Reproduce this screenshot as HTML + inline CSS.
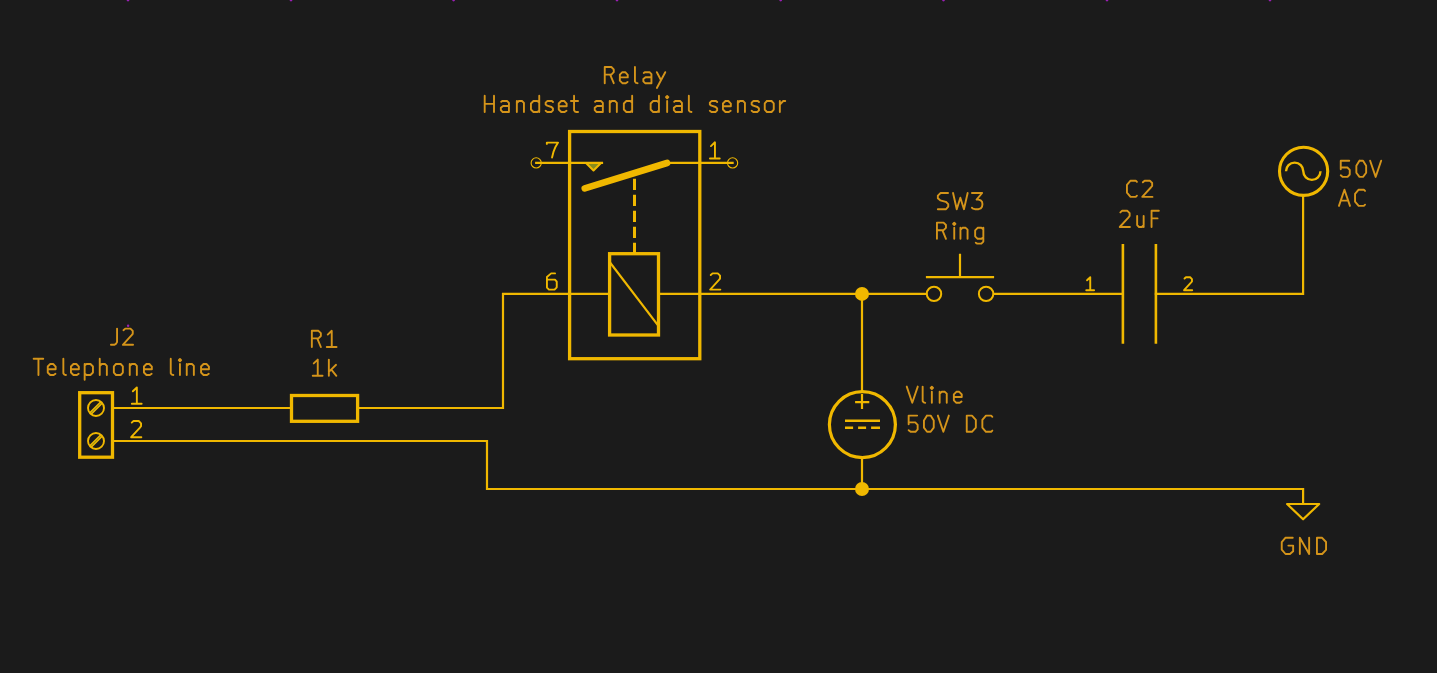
<!DOCTYPE html>
<html><head><meta charset="utf-8"><title>Schematic</title>
<style>html,body{margin:0;padding:0;background:#1b1b1b;overflow:hidden;font-family:"Liberation Sans",sans-serif;}svg{display:block;}</style>
</head><body>
<svg width="1437" height="673" viewBox="0 0 1437 673">
<rect width="1437" height="673" fill="#1b1b1b"/>
<g fill="none">
<path d="M112.5 408 H291.5 M357.6 408 H503 V293.9 H609.6 M658.5 293.9 H926 M994.2 293.9 H1122.9 M1155.9 293.9 H1303.1 V195.5 M862 293.9 V391.6 M862 457.6 V489 M112.5 441 H487 V489 H1303.1 V504 M536.2 162.9 H602 M668 162.9 H732.6 M609.6 262 L658.5 326" stroke="#f0b800" stroke-width="2.2" stroke-linecap="square"/>
<rect x="569.6" y="131.5" width="130.2" height="227.2" stroke="#f0b800" stroke-width="3.3"/>
<rect x="609.6" y="253.7" width="48.9" height="81.3" stroke="#f0b800" stroke-width="3.3"/>
<path d="M634.5 178.7 V253.7" stroke="#f0b800" stroke-width="3" stroke-dasharray="11.4 4.6"/>
<path d="M584.8 188.4 L667 163" stroke="#f0b800" stroke-width="6.7" stroke-linecap="round"/>
<path d="M586 163 L601 163 L593.5 170.5 Z" fill="#878c1e" stroke="#f0b800" stroke-width="2" stroke-linejoin="round"/>
<circle cx="536.2" cy="162.9" r="5.1" stroke="#f0b800" stroke-width="1.1"/>
<circle cx="732.6" cy="162.9" r="5.1" stroke="#f0b800" stroke-width="1.1"/>
<rect x="79.7" y="392.7" width="32.8" height="64.5" stroke="#f0b800" stroke-width="3.3"/>
<circle cx="96.0" cy="408.0" r="8" stroke="#f0b800" stroke-width="1.9"/>
<path d="M90 412.5 L100.5 402 L102 403.5 L91.5 414 Z" fill="#878c1e" stroke="#f0b800" stroke-width="1.4"/>
<circle cx="96.0" cy="441.0" r="8" stroke="#f0b800" stroke-width="1.9"/>
<path d="M90 445.5 L100.5 435 L102 436.5 L91.5 447 Z" fill="#878c1e" stroke="#f0b800" stroke-width="1.4"/>
<rect x="291.5" y="395.5" width="66.1" height="25.8" stroke="#f0b800" stroke-width="3.3"/>
<path d="M960 253.7 V278.2 M925.9 277.1 H994.1" stroke="#f0b800" stroke-width="2.2"/>
<circle cx="934" cy="293.9" r="7.2" stroke="#f0b800" stroke-width="2"/>
<circle cx="986.1" cy="293.9" r="7.2" stroke="#f0b800" stroke-width="2"/>
<path d="M1122.9 243.9 V343.8 M1155.9 243.9 V343.8" stroke="#f0b800" stroke-width="2.6"/>
<circle cx="1303.6" cy="171.3" r="24.1" stroke="#f0b800" stroke-width="3.1"/>
<path d="M1286 171.3 A8.6 8.6 0 0 1 1303.3 171.3 A8.6 8.6 0 0 0 1320.5 171.3" stroke="#f0b800" stroke-width="2.4"/>
<circle cx="862.4" cy="424.6" r="33" stroke="#f0b800" stroke-width="3.2"/>
<path d="M855.1 402.1 H869.3 M862 393.9 V409" stroke="#f0b800" stroke-width="2.2"/>
<path d="M845 420.7 H880 M845 427.7 H853.1 M858.1 427.7 H866.1 M871.1 427.7 H880" stroke="#f0b800" stroke-width="2.5"/>
<path d="M1287.1 504 H1319.2 L1303.1 519.3 Z" stroke="#f0b800" stroke-width="2.2" stroke-linejoin="round"/>
<circle cx="862" cy="293.9" r="7" fill="#f0b800"/>
<circle cx="862" cy="489" r="7" fill="#f0b800"/>
<circle cx="128" cy="0" r="1.4" fill="#9a1fb4"/>
<circle cx="291" cy="0" r="1.4" fill="#9a1fb4"/>
<circle cx="453.6" cy="0" r="1.4" fill="#9a1fb4"/>
<circle cx="617" cy="0" r="1.4" fill="#9a1fb4"/>
<circle cx="780.7" cy="0" r="1.4" fill="#9a1fb4"/>
<circle cx="943.5" cy="0" r="1.4" fill="#9a1fb4"/>
<circle cx="1107" cy="0" r="1.4" fill="#9a1fb4"/>
<circle cx="1270" cy="0" r="1.4" fill="#9a1fb4"/>
<circle cx="128.1" cy="325.7" r="1.2" fill="#9a1fb4"/>
</g>
<g fill="none" stroke-linecap="round" stroke-linejoin="round">
<path d="M604.75 83.2 L604.75 67 L611.35 67 L613.75 69.4 L613.75 72.2 L611.35 74.6 L604.75 74.6M610.15 74.6 L613.75 83.2M619.85 77.4 L627.75 77.4 L627.75 74.8 L625.25 72.2 L622.35 72.2 L619.85 74.7 L619.85 80.7 L622.35 83.2 L625.75 83.2 L627.55 81.9M634.95 67 L634.95 81.5 L636.05 82.8 L637.55 83.2M643.75 73 L644.75 72.2 L649.55 72.2 L651.45 74.1 L651.45 83.2M651.45 77.2 L645.55 77.2 L643.35 79 L643.35 81.4 L645.15 83.2 L651.45 83.2M656.85 72.2 L661.05 80.2M665.25 72.2 L656.85 88" stroke="#d4941a" stroke-width="1.9"/>
<path d="M484.7 112 L484.7 95.8M494 112 L494 95.8M484.7 103.9 L494 103.9M501.25 101.8 L502.25 101 L507.05 101 L508.95 102.9 L508.95 112M508.95 106 L503.05 106 L500.85 107.8 L500.85 110.2 L502.65 112 L508.95 112M516.85 101 L516.85 112M516.85 103 L518.85 101 L522.05 101 L523.95 102.9 L523.95 112M539.25 95.8 L539.25 112M539.25 102.6 L537.35 101 L533.45 101 L530.95 103.5 L530.95 109.5 L533.45 112 L537.35 112 L539.25 110.4M552.95 102 L551.85 101 L547.45 101 L545.65 102.6 L545.65 104.4 L547.25 105.7 L551.45 107 L552.95 108.5 L552.95 110.4 L551.25 112 L547.25 112 L545.65 110.8M558.75 106.2 L566.65 106.2 L566.65 103.6 L564.15 101 L561.25 101 L558.75 103.5 L558.75 109.5 L561.25 112 L564.65 112 L566.45 110.7M574.05 95.8 L574.05 110.2 L575.05 111.6 L576.35 112 L578.05 112M570.95 101 L578.05 101M595.15 101.8 L596.15 101 L600.95 101 L602.85 102.9 L602.85 112M602.85 106 L596.95 106 L594.75 107.8 L594.75 110.2 L596.55 112 L602.85 112M609.75 101 L609.75 112M609.75 103 L611.75 101 L614.95 101 L616.85 102.9 L616.85 112M632.15 95.8 L632.15 112M632.15 102.6 L630.25 101 L626.35 101 L623.85 103.5 L623.85 109.5 L626.35 112 L630.25 112 L632.15 110.4M658.95 95.8 L658.95 112M658.95 102.6 L657.05 101 L653.15 101 L650.65 103.5 L650.65 109.5 L653.15 112 L657.05 112 L658.95 110.4M667.15 101 L667.15 112M667.15 95.9 L665.95 97.1 L667.15 98.3 L668.35 97.1 L667.15 95.9M674.25 101.8 L675.25 101 L680.05 101 L681.95 102.9 L681.95 112M681.95 106 L676.05 106 L673.85 107.8 L673.85 110.2 L675.65 112 L681.95 112M688.85 95.8 L688.85 110.3 L689.95 111.6 L691.45 112M717.15 102 L716.05 101 L711.65 101 L709.85 102.6 L709.85 104.4 L711.45 105.7 L715.65 107 L717.15 108.5 L717.15 110.4 L715.45 112 L711.45 112 L709.85 110.8M722.95 106.2 L730.85 106.2 L730.85 103.6 L728.35 101 L725.45 101 L722.95 103.5 L722.95 109.5 L725.45 112 L728.85 112 L730.65 110.7M737.85 101 L737.85 112M737.85 103 L739.85 101 L743.05 101 L744.95 102.9 L744.95 112M758.95 102 L757.85 101 L753.45 101 L751.65 102.6 L751.65 104.4 L753.25 105.7 L757.45 107 L758.95 108.5 L758.95 110.4 L757.25 112 L753.25 112 L751.65 110.8M766.95 101 L771.55 101 L773.75 103.4 L773.75 109.6 L771.55 112 L766.95 112 L764.75 109.6 L764.75 103.4 L766.95 101M779.85 101 L779.85 112M779.85 104.6 L783.25 101 L785.25 101" stroke="#d4941a" stroke-width="1.9"/>
<path d="M117.05 328.6 L117.05 342 L116.15 343.6 L114.55 344.7 L110.95 344.8M123.45 330.2 L125.25 328.6 L130.45 328.6 L132.75 330.9 L132.75 333.8 L131.45 335.4 L122.85 344.8 L133.05 344.8" stroke="#d4941a" stroke-width="1.9"/>
<path d="M33.65 358.8 L43.25 358.8M38.45 358.8 L38.45 375M47.75 369.2 L55.65 369.2 L55.65 366.6 L53.15 364 L50.25 364 L47.75 366.5 L47.75 372.5 L50.25 375 L53.65 375 L55.45 373.7M63.35 358.8 L63.35 373.3 L64.45 374.6 L65.95 375M70.95 369.2 L78.85 369.2 L78.85 366.6 L76.35 364 L73.45 364 L70.95 366.5 L70.95 372.5 L73.45 375 L76.85 375 L78.65 373.7M84.65 364 L84.65 379.8M84.65 365.6 L86.55 364 L90.45 364 L92.95 366.5 L92.95 372.5 L90.45 375 L86.55 375 L84.65 373.4M99.75 358.8 L99.75 375M99.75 366 L101.75 364 L104.95 364 L106.85 365.9 L106.85 375M116.05 364 L120.65 364 L122.85 366.4 L122.85 372.6 L120.65 375 L116.05 375 L113.85 372.6 L113.85 366.4 L116.05 364M129.75 364 L129.75 375M129.75 366 L131.75 364 L134.95 364 L136.85 365.9 L136.85 375M143.95 369.2 L151.85 369.2 L151.85 366.6 L149.35 364 L146.45 364 L143.95 366.5 L143.95 372.5 L146.45 375 L149.85 375 L151.65 373.7M170.75 358.8 L170.75 373.3 L171.85 374.6 L173.35 375M179.95 364 L179.95 375M179.95 358.9 L178.75 360.1 L179.95 361.3 L181.15 360.1 L179.95 358.9M186.75 364 L186.75 375M186.75 366 L188.75 364 L191.95 364 L193.85 365.9 L193.85 375M201.05 369.2 L208.95 369.2 L208.95 366.6 L206.45 364 L203.55 364 L201.05 366.5 L201.05 372.5 L203.55 375 L206.95 375 L208.75 373.7" stroke="#d4941a" stroke-width="1.9"/>
<path d="M311.85 347 L311.85 330.8 L318.45 330.8 L320.85 333.2 L320.85 336 L318.45 338.4 L311.85 338.4M317.25 338.4 L320.85 347M327.75 334.6 L331.75 330.8 L331.75 347M326.75 347 L336.55 347" stroke="#d4941a" stroke-width="1.9"/>
<path d="M313.75 363.4 L317.75 359.6 L317.75 375.8M312.75 375.8 L322.55 375.8M328.85 359.6 L328.85 375.8M336.05 364.8 L328.85 371.9M331.55 369.8 L336.35 375.8" stroke="#d4941a" stroke-width="1.9"/>
<path d="M948.05 193 L940.65 193 L937.85 195.6 L937.85 198.2 L940.25 200.3 L945.85 201.8 L948.25 204.1 L948.25 206.7 L946.05 209.2 L937.85 209.2M953.05 193 L956.75 209.2 L960.35 197.7 L963.95 209.2 L967.65 193M971.95 193 L982.15 193 L976.55 199.6 L978.55 199.6 L980.75 200.4 L982.05 201.9 L982.45 204.2 L982.05 206.6 L980.75 208.3 L978.55 209.2 L974.95 209.2 L972.95 208.6 L971.95 207.7" stroke="#d4941a" stroke-width="1.9"/>
<path d="M936.95 238.8 L936.95 222.6 L943.55 222.6 L945.95 225 L945.95 227.8 L943.55 230.2 L936.95 230.2M942.35 230.2 L945.95 238.8M954.25 227.8 L954.25 238.8M954.25 222.7 L953.05 223.9 L954.25 225.1 L955.45 223.9 L954.25 222.7M960.45 227.8 L960.45 238.8M960.45 229.8 L962.45 227.8 L965.65 227.8 L967.55 229.7 L967.55 238.8M983.35 227.8 L983.35 241.6 L981.35 243.6 L977.15 243.6 L975.75 242.8M983.35 229.4 L981.45 227.8 L977.65 227.8 L975.15 230.3 L975.15 236.3 L977.65 238.8 L981.45 238.8 L983.35 237.2" stroke="#d4941a" stroke-width="1.9"/>
<path d="M1136.95 181.9 L1135.75 180.7 L1130.55 180.7 L1126.95 184.9 L1126.95 192.7 L1130.55 196.9 L1135.75 196.9 L1136.95 195.7M1142.85 182.3 L1144.65 180.7 L1149.85 180.7 L1152.15 183 L1152.15 185.9 L1150.85 187.5 L1142.25 196.9 L1152.45 196.9" stroke="#d4941a" stroke-width="1.9"/>
<path d="M1120.35 212.4 L1122.15 210.8 L1127.35 210.8 L1129.65 213.1 L1129.65 216 L1128.35 217.6 L1119.75 227 L1129.95 227M1137.15 216 L1137.15 225.1 L1139.05 227 L1141.75 227 L1143.65 225.1M1143.65 216 L1143.65 227M1158.85 210.8 L1151.55 210.8 L1151.55 227M1151.55 218.4 L1157.55 218.4" stroke="#d4941a" stroke-width="1.9"/>
<path d="M1349.25 160.7 L1340.75 160.7 L1340.75 169.3M1340.75 167.5 L1347.35 167.5 L1349.75 169.9 L1349.75 174.5 L1347.55 176.9 L1342.75 176.9 L1340.75 175.3M1359.45 160.7 L1363.05 160.7 L1366.15 165.7 L1366.15 172.7 L1363.05 176.9 L1359.45 176.9 L1356.35 172.7 L1356.35 165.7 L1359.45 160.7M1370.15 160.7 L1375.65 176.9 L1381.15 160.7" stroke="#d4941a" stroke-width="1.9"/>
<path d="M1338.95 205.9 L1344.45 189.7 L1349.95 205.9M1340.85 200.6 L1348.05 200.6M1365.05 190.9 L1363.85 189.7 L1358.65 189.7 L1355.05 193.9 L1355.05 201.7 L1358.65 205.9 L1363.85 205.9 L1365.05 204.7" stroke="#d4941a" stroke-width="1.9"/>
<path d="M906.75 386.6 L912.25 402.8 L917.75 386.6M922.65 386.6 L922.65 401.1 L923.75 402.4 L925.25 402.8M931.85 391.8 L931.85 402.8M931.85 386.7 L930.65 387.9 L931.85 389.1 L933.05 387.9 L931.85 386.7M939.65 391.8 L939.65 402.8M939.65 393.8 L941.65 391.8 L944.85 391.8 L946.75 393.7 L946.75 402.8M953.85 397 L961.75 397 L961.75 394.4 L959.25 391.8 L956.35 391.8 L953.85 394.3 L953.85 400.3 L956.35 402.8 L959.75 402.8 L961.55 401.5" stroke="#d4941a" stroke-width="1.9"/>
<path d="M917.15 415.6 L908.65 415.6 L908.65 424.2M908.65 422.4 L915.25 422.4 L917.65 424.8 L917.65 429.4 L915.45 431.8 L910.65 431.8 L908.65 430.2M927.05 415.6 L930.65 415.6 L933.75 420.6 L933.75 427.6 L930.65 431.8 L927.05 431.8 L923.95 427.6 L923.95 420.6 L927.05 415.6M937.85 415.6 L943.35 431.8 L948.85 415.6M966.75 431.8 L966.75 415.6 L971.95 415.6 L975.85 419.8 L975.85 427.6 L971.95 431.8 L966.75 431.8M992.35 416.8 L991.15 415.6 L985.95 415.6 L982.35 419.8 L982.35 427.6 L985.95 431.8 L991.15 431.8 L992.35 430.6" stroke="#d4941a" stroke-width="1.9"/>
<path d="M1292.75 537.8 L1285.35 537.8 L1281.75 542.2 L1281.75 549.6 L1285.55 554 L1289.95 554 L1293.15 551.2 L1293.15 545.6 L1288.35 545.6M1299.85 554 L1299.85 537.8 L1309.15 554 L1309.15 537.8M1316.95 554 L1316.95 537.8 L1322.15 537.8 L1326.05 542 L1326.05 549.8 L1322.15 554 L1316.95 554" stroke="#d4941a" stroke-width="1.9"/>
<path d="M546.85 143.9 L546.85 142.6 L558.05 142.6 L555.45 146.9 L553.45 151.9 L552.05 157.5" stroke="#f0b800" stroke-width="1.9"/>
<path d="M710.95 146.1 L714.95 142.3 L714.95 158.5M709.95 158.5 L719.75 158.5" stroke="#f0b800" stroke-width="1.9"/>
<path d="M555.05 273.4 L551.15 273.4 L546.95 277 L546.95 287.6 L548.95 289.6 L554.55 289.6 L556.75 287.3 L556.75 281.7 L554.95 279.6 L546.95 279.6" stroke="#f0b800" stroke-width="1.9"/>
<path d="M710.75 275 L712.55 273.4 L717.75 273.4 L720.05 275.7 L720.05 278.6 L718.75 280.2 L710.15 289.6 L720.35 289.6" stroke="#f0b800" stroke-width="1.9"/>
<path d="M132.85 391.3 L136.85 387.5 L136.85 403.7M131.85 403.7 L141.65 403.7" stroke="#f0b800" stroke-width="1.9"/>
<path d="M131.75 422.6 L133.55 421 L138.75 421 L141.05 423.3 L141.05 426.2 L139.75 427.8 L131.15 437.2 L141.35 437.2" stroke="#f0b800" stroke-width="1.9"/>
<path d="M1087.05 280.28 L1090.25 277.24 L1090.25 290.2M1086.25 290.2 L1094.09 290.2" stroke="#f0b800" stroke-width="1.9"/>
<path d="M1184.53 278.52 L1185.97 277.24 L1190.13 277.24 L1191.97 279.08 L1191.97 281.4 L1190.93 282.68 L1184.05 290.2 L1192.21 290.2" stroke="#f0b800" stroke-width="1.9"/>
</g>
</svg>
</body></html>
